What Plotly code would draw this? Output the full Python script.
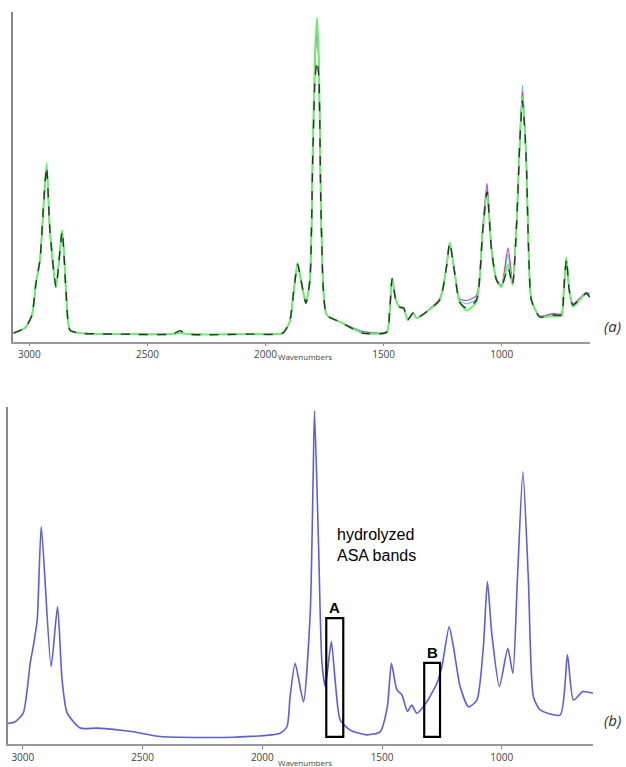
import plotly.graph_objects as go

# ---------------- data: panel (a) ----------------
wn_a = [3068, 3018, 2989, 2972, 2955, 2941, 2927, 2913, 2887, 2861, 2845, 2828, 2786,
        2616, 2396, 2363, 2328, 2066, 1927, 1898, 1880, 1864, 1850, 1829, 1812, 1800,
        1790, 1782, 1774, 1766, 1755, 1741, 1685, 1588, 1487, 1474, 1464, 1448, 1432,
        1415, 1398, 1375, 1361, 1263, 1234, 1220, 1199, 1178, 1149, 1107, 1081, 1062,
        1043, 1022, 1001, 973, 954, 936, 923, 912, 902, 895, 886, 874, 839, 784, 747,
        737, 726, 714, 698, 642, 627]
abs_green = [0.026, 0.042, 0.081, 0.178, 0.248, 0.400, 0.542, 0.339, 0.166, 0.339, 0.157,
             0.035, 0.026, 0.023, 0.023, 0.027, 0.023, 0.023, 0.026, 0.060, 0.157, 0.239,
             0.187, 0.117, 0.187, 0.582, 0.885, 0.982, 0.855, 0.430, 0.157, 0.081, 0.060,
             0.026, 0.029, 0.096, 0.193, 0.126, 0.105, 0.102, 0.066, 0.087, 0.072, 0.126,
             0.226, 0.302, 0.208, 0.120, 0.095, 0.120, 0.329, 0.455, 0.278, 0.187, 0.166,
             0.235, 0.172, 0.369, 0.612, 0.745, 0.642, 0.530, 0.278, 0.126, 0.075, 0.078,
             0.078, 0.157, 0.253, 0.157, 0.106, 0.147, 0.135]
abs_dark = [0.026, 0.042, 0.081, 0.178, 0.248, 0.400, 0.530, 0.339, 0.166, 0.335, 0.157,
            0.035, 0.026, 0.023, 0.023, 0.033, 0.023, 0.023, 0.026, 0.060, 0.157, 0.235,
            0.187, 0.117, 0.187, 0.560, 0.800, 0.850, 0.800, 0.430, 0.157, 0.081, 0.060,
            0.026, 0.029, 0.096, 0.190, 0.126, 0.105, 0.102, 0.066, 0.087, 0.072, 0.126,
            0.226, 0.300, 0.208, 0.120, 0.102, 0.126, 0.329, 0.455, 0.278, 0.187, 0.166,
            0.225, 0.172, 0.369, 0.612, 0.730, 0.642, 0.530, 0.278, 0.126, 0.075, 0.081,
            0.081, 0.157, 0.250, 0.157, 0.111, 0.147, 0.135]
abs_magenta = [0.026, 0.042, 0.081, 0.178, 0.248, 0.400, 0.535, 0.339, 0.166, 0.335, 0.157,
               0.035, 0.026, 0.023, 0.023, 0.027, 0.023, 0.023, 0.026, 0.060, 0.157, 0.235,
               0.187, 0.117, 0.187, 0.560, 0.850, 0.950, 0.830, 0.430, 0.157, 0.081, 0.060,
               0.030, 0.029, 0.096, 0.190, 0.126, 0.105, 0.102, 0.066, 0.087, 0.072, 0.130,
               0.226, 0.300, 0.212, 0.130, 0.125, 0.140, 0.340, 0.480, 0.285, 0.190, 0.170,
               0.285, 0.180, 0.369, 0.612, 0.760, 0.642, 0.530, 0.278, 0.126, 0.078, 0.085,
               0.085, 0.160, 0.255, 0.160, 0.115, 0.150, 0.145]
abs_cyan = [0.026, 0.042, 0.081, 0.178, 0.248, 0.400, 0.535, 0.339, 0.166, 0.335, 0.157,
            0.035, 0.026, 0.023, 0.023, 0.027, 0.023, 0.023, 0.026, 0.060, 0.157, 0.235,
            0.187, 0.117, 0.187, 0.570, 0.860, 0.960, 0.840, 0.430, 0.157, 0.081, 0.060,
            0.032, 0.029, 0.096, 0.190, 0.126, 0.105, 0.102, 0.066, 0.087, 0.072, 0.126,
            0.226, 0.300, 0.210, 0.125, 0.115, 0.130, 0.335, 0.465, 0.280, 0.188, 0.168,
            0.265, 0.176, 0.369, 0.612, 0.778, 0.642, 0.530, 0.278, 0.126, 0.076, 0.083,
            0.083, 0.158, 0.254, 0.158, 0.112, 0.148, 0.140]

# ---------------- data: panel (b) ----------------
wn_b = [3064, 3032, 2998, 2969, 2957, 2940, 2923, 2882, 2855, 2836, 2815, 2760, 2690, 2539,
        2426, 2122, 1926, 1897, 1884, 1863, 1828, 1800, 1788, 1782, 1765, 1751, 1737, 1712,
        1696, 1675, 1633, 1564, 1508, 1478, 1461, 1438, 1417, 1394, 1376, 1355, 1313, 1271,
        1250, 1220, 1202, 1174, 1139, 1104, 1077, 1060, 1042, 1010, 975, 954, 935, 912, 889,
        868, 840, 756, 726, 701, 662, 619]
abs_b = [0.062, 0.067, 0.093, 0.241, 0.288, 0.368, 0.645, 0.230, 0.408, 0.190, 0.093, 0.048,
         0.048, 0.037, 0.023, 0.021, 0.033, 0.052, 0.141, 0.240, 0.126, 0.389, 0.783, 0.988,
         0.585, 0.241, 0.171, 0.304, 0.190, 0.072, 0.042, 0.028, 0.037, 0.111, 0.240, 0.161,
         0.146, 0.097, 0.116, 0.092, 0.126, 0.181, 0.230, 0.348, 0.289, 0.171, 0.111, 0.131,
         0.289, 0.482, 0.329, 0.171, 0.284, 0.210, 0.487, 0.807, 0.487, 0.141, 0.102, 0.087,
         0.265, 0.131, 0.156, 0.151]

tick_vals = [3000, 2500, 2000, 1500, 1000]
tick_text = ["3000", "2500", "2000", "1500", "1000"]

# hydrolyzed band boxes (wavenumber span, absorbance top)
box_A = [1733, 1662, 0.374]
box_B = [1324, 1258, 0.241]

fig = go.Figure()

series_a = [
    (abs_cyan, "#5fd3d3", None, 1.2),
    (abs_magenta, "#c040c0", None, 1.2),
    (abs_green, "#6cf06c", None, 2.0),
    (abs_dark, "#1e3a22", "dash", 1.4),
]
for vals, col, dash, w in series_a:
    fig.add_trace(go.Scatter(x=wn_a, y=vals, mode="lines", xaxis="x", yaxis="y",
                             line=dict(color=col, width=w, dash=dash, shape="spline",
                                       smoothing=0.6),
                             showlegend=False, hoverinfo="skip"))

fig.add_trace(go.Scatter(x=wn_b, y=abs_b, mode="lines", xaxis="x2", yaxis="y2",
                         line=dict(color="#5c5ce0", width=1.6, shape="spline", smoothing=0.6),
                         showlegend=False, hoverinfo="skip"))

W, H = 626, 767


def px(x):
    return x / W


def py(y):
    return 1 - y / H


ax_common = dict(showgrid=False, zeroline=False, tickmode="array", tickvals=tick_vals,
                 ticktext=tick_text, ticks="outside", ticklen=3, tickcolor="#888",
                 showline=True, linecolor="#999", linewidth=1.5,
                 tickfont=dict(family="Open Sans", size=10, color="#444"))
yax_common = dict(showgrid=False, zeroline=False, showticklabels=False, ticks="",
                  showline=True, linecolor="#888", linewidth=2, range=[0, 1])

fig.update_layout(
    width=W, height=H, margin=dict(l=0, r=0, t=0, b=0),
    paper_bgcolor="white", plot_bgcolor="white",
    xaxis=dict(domain=[px(13.3), px(590)], range=[3068, 626], anchor="y", **ax_common),
    yaxis=dict(domain=[py(341.7), py(12)], anchor="x", **yax_common),
    xaxis2=dict(domain=[px(7.5), px(593.3)], range=[3064, 618], anchor="y2", **ax_common),
    yaxis2=dict(domain=[py(744.3), py(406.7)], anchor="x2", **yax_common),
)

shapes = []
for bx in (box_A, box_B):
    shapes.append(dict(type="rect", xref="x2", yref="y2", x0=bx[0], x1=bx[1], y0=0.022,
                       y1=bx[2], line=dict(color="black", width=2.2),
                       fillcolor="rgba(0,0,0,0)"))
fig.update_layout(shapes=shapes)

ann = [
    dict(text="<i>(a)</i>", xref="paper", yref="paper", x=px(612), y=py(326),
         showarrow=False, font=dict(family="Open Sans", size=15, color="#333"),
         xanchor="center", yanchor="middle"),
    dict(text="<i>(b)</i>", xref="paper", yref="paper", x=px(612), y=py(720),
         showarrow=False, font=dict(family="Open Sans", size=15, color="#333"),
         xanchor="center", yanchor="middle"),
    dict(text="Wavenumbers", xref="paper", yref="paper", x=px(305), y=py(357),
         showarrow=False, font=dict(family="Open Sans", size=8, color="#444"),
         xanchor="center", yanchor="middle"),
    dict(text="Wavenumbers", xref="paper", yref="paper", x=px(305), y=py(762),
         showarrow=False, font=dict(family="Open Sans", size=8, color="#444"),
         xanchor="center", yanchor="middle"),
    dict(text="hydrolyzed<br>ASA bands", xref="paper", yref="paper", x=px(335),
         y=py(545), showarrow=False, align="left",
         font=dict(family="Liberation Sans", size=16, color="black"), xanchor="left",
         yanchor="middle"),
    dict(text="<b>A</b>", xref="x2", yref="y2", x=(box_A[0] + box_A[1]) / 2, y=box_A[2],
         yanchor="bottom", showarrow=False,
         font=dict(family="Liberation Sans", size=15, color="black")),
    dict(text="<b>B</b>", xref="x2", yref="y2", x=(box_B[0] + box_B[1]) / 2, y=box_B[2],
         yanchor="bottom", showarrow=False,
         font=dict(family="Liberation Sans", size=15, color="black")),
]
fig.update_layout(annotations=ann)

# remove the default page margin so the 626x767 figure fills the window exactly
fig.write_html("out.html", config={"displayModeBar": False},
               post_script="document.body.style.margin='0';"
                           "document.body.style.overflow='hidden';")
